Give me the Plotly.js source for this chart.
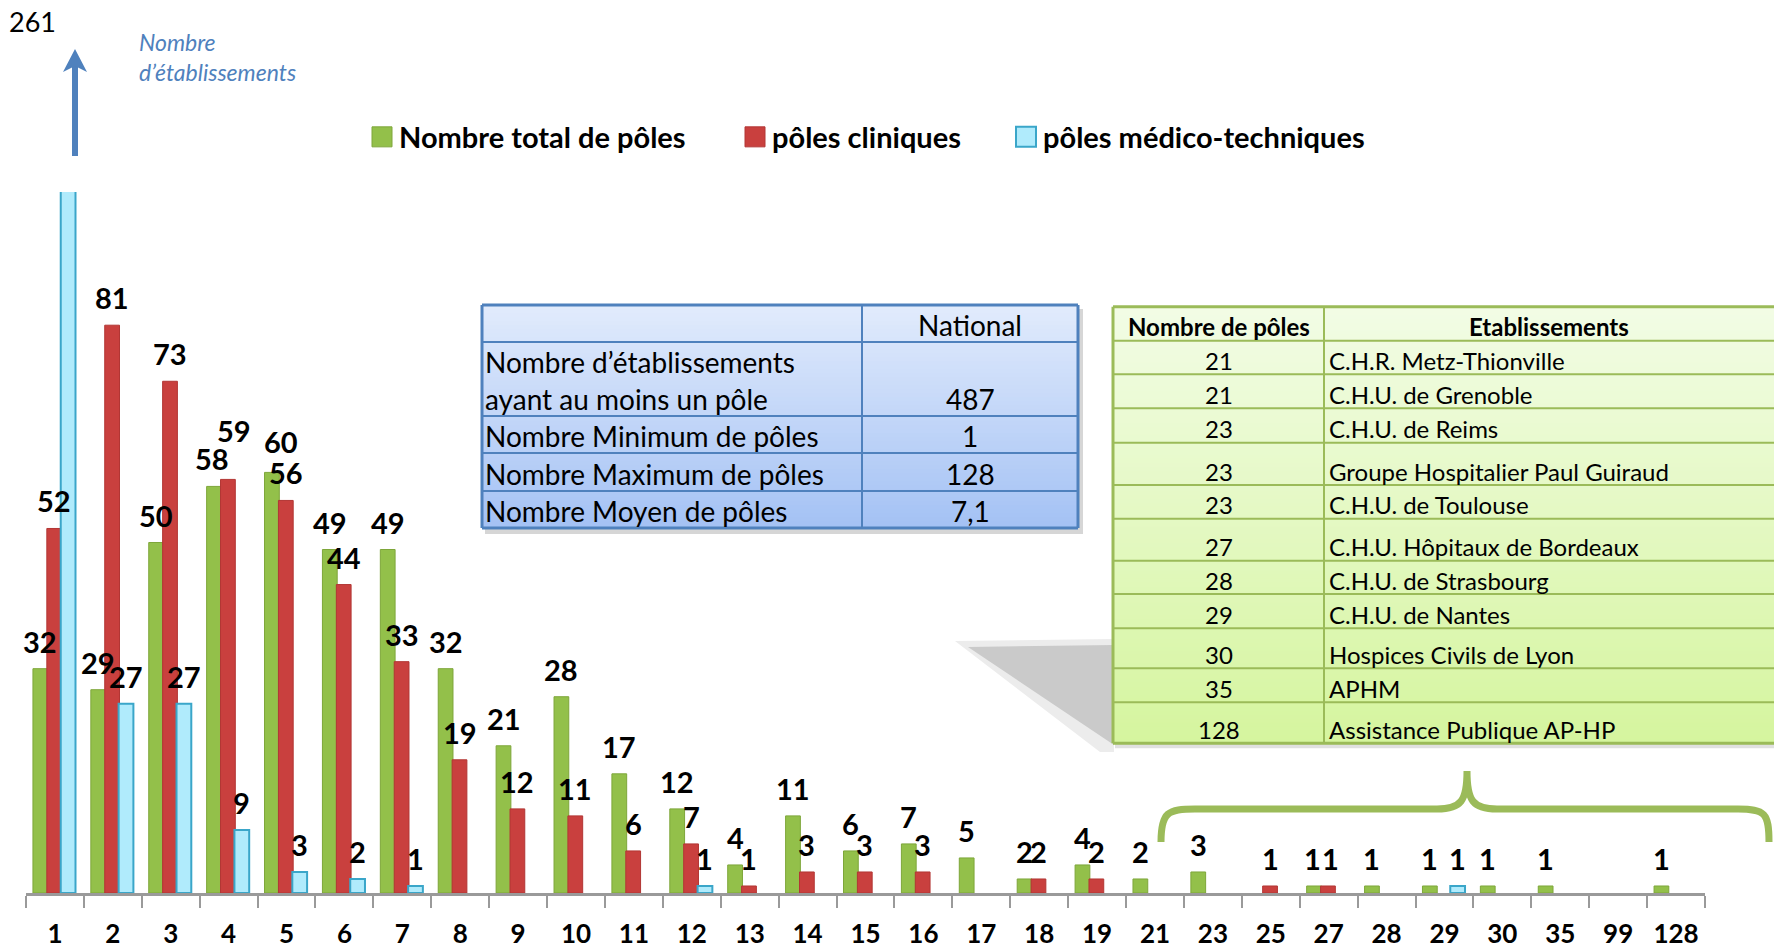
<!DOCTYPE html>
<html><head><meta charset="utf-8">
<script src="https://cdn.plot.ly/plotly-3.0.1.min.js"></script>
<style>html,body{margin:0;padding:0;background:#fff}#chart{width:1774px;height:950px}</style>
</head><body><div id="chart"></div>
<script>
// ---------- DATA ----------
const categories = ['1','2','3','4','5','6','7','8','9','10','11','12','13','14','15','16','17','18','19','21','23','25','27','28','29','30','35','99','128'];
const totalPoles = [32,29,50,58,60,49,49,32,21,28,17,12,4,11,6,7,5,2,4,2,3,0,1,1,1,1,1,0,1];
const polesCliniques = [52,81,73,59,56,44,33,19,12,11,6,7,1,3,3,3,0,2,2,0,0,1,1,0,0,0,0,0,0];
const polesMedicoTechniques = [261,27,27,9,3,2,1,0,0,0,0,1,0,0,0,0,0,0,0,0,0,0,0,0,1,0,0,0,0];
const seriesNames = ['Nombre total de pôles','pôles cliniques','pôles médico-techniques'];
const yAxisNote = 'Nombre<br>d’établissements';

const nationalHeader = 'National';
const nationalLabels = [['Nombre d’établissements','ayant au moins un pôle'],['Nombre Minimum de pôles'],['Nombre Maximum de pôles'],['Nombre Moyen de pôles']];
const nationalValues = ['487','1','128','7,1'];

const etabHeader = ['Nombre de pôles','Etablissements'];
const etabPoles = ['21','21','23','23','23','27','28','29','30','35','128'];
const etabNames = ['C.H.R. Metz-Thionville','C.H.U. de Grenoble','C.H.U. de Reims','Groupe Hospitalier Paul Guiraud','C.H.U. de Toulouse','C.H.U. Hôpitaux de Bordeaux','C.H.U. de Strasbourg','C.H.U. de Nantes','Hospices Civils de Lyon','APHM','Assistance Publique AP-HP'];

// ---------- GEOMETRY / STYLE ----------
const FONT = 'Lato, "Liberation Sans", Arial, sans-serif';
const L = 26, R = 1705, T = 192, B = 893;
const yMax = 100;
const px = x => (x - L) / (R - L);
const py = y => (B - y) / (B - T);
const P = (x, y) => px(x) + ',' + py(y);

const barW = 0.255;
const barOffsets = [-0.38, -0.14, 0.10];
const fillColors = ['#93c04a', '#c9403e', '#b0ebfc'];
const lineColors = ['#7ea63a', '#b23634', '#3aa6c9'];
const lineWidths = [1, 1, 2];
const legendIds = ['legend', 'legend2', 'legend3'];
const legendX = [359, 732, 1003];
const seriesValues = [totalPoles, polesCliniques, polesMedicoTechniques];
// label placement nudges (px) as in the original: key = series,categoryIndex
const labelNudge = {'0,3': {dx: -2, dy: 0}, '1,3': {dx: 6, dy: 21}, '0,4': {dx: 9, dy: 3}, '0,22': {dx: -2, dy: 0}, '1,22': {dx: 3, dy: 0}};

const traces = seriesValues.map((vals, k) => ({
  type: 'bar', name: seriesNames[k], x: categories, y: vals.map(v => v > 0 ? v : null),
  width: barW, offset: barOffsets[k],
  marker: {color: fillColors[k], line: {color: lineColors[k], width: lineWidths[k]}},
  legend: legendIds[k], hoverinfo: 'x+y+name'
}));

const annotations = [];
const labelFont = {family: FONT, size: 29, color: '#000', weight: 700};
seriesValues.forEach((vals, k) => vals.forEach((v, i) => {
  if (v > 0 && v <= yMax) {
    const n = labelNudge[k + ',' + i] || {dx: 0, dy: 0};
    annotations.push({xref: 'x', yref: 'y', x: i + barOffsets[k] + barW / 2, y: v,
      text: String(v), showarrow: false, yanchor: 'bottom', yshift: 8 + n.dy, xshift: n.dx, font: labelFont});
  }
}));
// clipped value shown at top-left
seriesValues.forEach((vals) => vals.forEach((v) => {
  if (v > yMax) annotations.push({xref: 'paper', yref: 'paper', x: px(7), y: py(21), xanchor: 'left', yanchor: 'middle',
    text: String(v), showarrow: false, font: {family: FONT, size: 27, color: '#000'}});
}));
annotations.push({xref: 'paper', yref: 'paper', x: px(137), y: py(57), xanchor: 'left', yanchor: 'middle', align: 'left',
  text: '<i>' + yAxisNote + '</i>', showarrow: false, font: {family: FONT, size: 23, color: '#4f81bd'}});

const shapes = [];
// arrow
shapes.push({type: 'line', xref: 'paper', yref: 'paper', x0: px(75), x1: px(75), y0: py(156), y1: py(66), line: {color: '#4f81bd', width: 6}});
shapes.push({type: 'path', xref: 'paper', yref: 'paper', path: 'M' + P(63, 72) + 'L' + P(75, 49) + 'L' + P(87, 72) + 'L' + P(75, 66) + 'Z', fillcolor: '#4f81bd', line: {width: 0}});

function lerpColor(a, b, t) {
  return 'rgb(' + a.map((c, i) => Math.round(c + (b[i] - c) * t)).join(',') + ')';
}
function gradientRect(x0, x1, y0, y1, c0, c1, step) {
  for (let y = y0; y < y1; y += step) {
    const ye = Math.min(y + step + 0.6, y1);
    shapes.push({type: 'rect', xref: 'paper', yref: 'paper', x0: px(x0), x1: px(x1), y0: py(y), y1: py(ye),
      fillcolor: lerpColor(c0, c1, (y - y0) / (y1 - y0)), line: {width: 0}});
  }
}
function hline(x0, x1, y, color, w) {
  shapes.push({type: 'line', xref: 'paper', yref: 'paper', x0: px(x0), x1: px(x1), y0: py(y), y1: py(y), line: {color: color, width: w}});
}
function vline(x, y0, y1, color, w) {
  shapes.push({type: 'line', xref: 'paper', yref: 'paper', x0: px(x), x1: px(x), y0: py(y0), y1: py(y1), line: {color: color, width: w}});
}
function text(x, y, s, opts) {
  annotations.push(Object.assign({xref: 'paper', yref: 'paper', x: px(x), y: py(y), text: s, showarrow: false,
    xanchor: 'left', yanchor: 'middle', font: {family: FONT, size: 26, color: '#000'}}, opts || {}));
}

// ---- national (blue) table ----
const bt = {x0: 482, xm: 862, x1: 1078, rows: [305, 342, 416, 453, 491, 528]};
shapes.push({type: 'rect', xref: 'paper', yref: 'paper', x0: px(bt.x0 + 3), x1: px(bt.x1 + 5), y0: py(bt.rows[0] + 4), y1: py(bt.rows[5] + 6), fillcolor: 'rgba(0,0,0,0.16)', line: {width: 0}});
gradientRect(bt.x0, bt.x1, bt.rows[0], bt.rows[5], [225, 235, 252], [163, 193, 244], 4);
bt.rows.forEach((y, i) => hline(bt.x0, bt.x1, y, '#4f81bd', (i === 0 || i === 5) ? 3 : 2));
[bt.x0, bt.xm, bt.x1].forEach((x, i) => vline(x, bt.rows[0], bt.rows[5], '#4f81bd', i === 1 ? 2 : 3));
const cellFont = {family: FONT, size: 28, color: '#000'};
text((bt.xm + bt.x1) / 2, bt.rows[1] - 17, nationalHeader, {xanchor: 'center', font: cellFont});
nationalLabels.forEach((lines, r) => {
  const yb = bt.rows[r + 2] - 17;
  lines.slice().reverse().forEach((ln, j) => text(bt.x0 + 1, yb - j * 37, ln, {font: cellFont}));
  text((bt.xm + bt.x1) / 2, yb, nationalValues[r], {xanchor: 'center', font: cellFont});
});

// ---- perspective shadow of green table ----
shapes.push({type: 'path', xref: 'paper', yref: 'paper', path: 'M' + P(955, 641) + 'L' + P(1114, 639) + 'L' + P(1114, 752) + 'L' + P(1100, 752) + 'Z', fillcolor: '#ececec', line: {width: 0}});
shapes.push({type: 'path', xref: 'paper', yref: 'paper', path: 'M' + P(968, 647) + 'L' + P(1114, 645) + 'L' + P(1114, 745) + 'Z', fillcolor: '#cacaca', line: {width: 0}});

// ---- etablissements (green) table ----
const gt = {x0: 1113, xm: 1324, x1: 1782, rows: [306.7, 340.7, 374.3, 408.3, 442.7, 485, 518.7, 560.7, 594, 628.3, 668.3, 702.3, 743.3]};
shapes.push({type: 'rect', xref: 'paper', yref: 'paper', x0: px(gt.x0 + 2), x1: px(gt.x1), y0: py(gt.rows[0] + 3), y1: py(gt.rows[12] + 5), fillcolor: 'rgba(0,0,0,0.12)', line: {width: 0}});
gradientRect(gt.x0, gt.x1, gt.rows[0], gt.rows[12], [242, 252, 229], [213, 245, 158], 4);
gt.rows.forEach((y, i) => hline(gt.x0, gt.x1, y, '#9bbb59', (i === 0 || i === 12) ? 3 : 2));
[gt.x0, gt.xm].forEach((x, i) => vline(x, gt.rows[0], gt.rows[12], '#9bbb59', i === 0 ? 3 : 2));
const boldCell = {family: FONT, size: 24, color: '#000', weight: 700};
const gCell = {family: FONT, size: 24, color: '#000'};
text((gt.x0 + gt.xm) / 2, gt.rows[1] - 14, etabHeader[0], {xanchor: 'center', font: boldCell});
text(1549, gt.rows[1] - 14, etabHeader[1], {xanchor: 'center', font: boldCell});
etabPoles.forEach((p, r) => {
  const yc = gt.rows[r + 2] - 14;
  text((gt.x0 + gt.xm) / 2, yc, p, {xanchor: 'center', font: gCell});
  text(gt.xm + 3, yc, etabNames[r], {font: gCell});
});

// ---- bracket ----
shapes.push({type: 'path', xref: 'paper', yref: 'paper',
  path: 'M' + P(1161, 842) + 'C' + P(1161, 812) + ' ' + P(1168, 809) + ' ' + P(1195, 809) +
        'L' + P(1437, 809) + 'C' + P(1461, 809) + ' ' + P(1467, 801) + ' ' + P(1467, 771) +
        'C' + P(1467, 801) + ' ' + P(1473, 809) + ' ' + P(1497, 809) +
        'L' + P(1738, 809) + 'C' + P(1765, 809) + ' ' + P(1769, 813) + ' ' + P(1769, 842),
  line: {color: '#9bbb59', width: 7}});

const legendFont = {family: FONT, size: 29, color: '#000', weight: 700};
const layout = {
  width: 1774, height: 950,
  margin: {l: L, r: 1774 - R, t: T, b: 950 - B, pad: 0},
  paper_bgcolor: '#fff', plot_bgcolor: '#fff',
  barmode: 'overlay',
  showlegend: true,
  xaxis: {type: 'category', categoryorder: 'array', categoryarray: categories, range: [-0.5, categories.length - 0.5],
    showline: true, linecolor: '#9a9a9a', linewidth: 3, ticks: 'outside', tickson: 'boundaries', ticklen: 12, tickwidth: 2,
    tickcolor: '#9a9a9a', tickfont: {family: FONT, size: 26, color: '#000', weight: 700}, ticklabelstandoff: 16,
    showgrid: false, zeroline: false, fixedrange: true},
  yaxis: {range: [0, yMax], visible: false, fixedrange: true},
  shapes: shapes,
  annotations: annotations
};
legendIds.forEach((id, k) => {
  layout[id] = {x: px(legendX[k]), xanchor: 'left', y: py(137), yanchor: 'middle', orientation: 'h',
    font: legendFont, bgcolor: 'rgba(0,0,0,0)', borderwidth: 0};
});

Plotly.newPlot('chart', traces, layout, {displayModeBar: false, staticPlot: true}).then(gd => {
  gd.querySelectorAll('.legendpoints path').forEach(p => p.setAttribute('d', 'M13,10H-7V-10H13Z'));
});
</script></body></html>
